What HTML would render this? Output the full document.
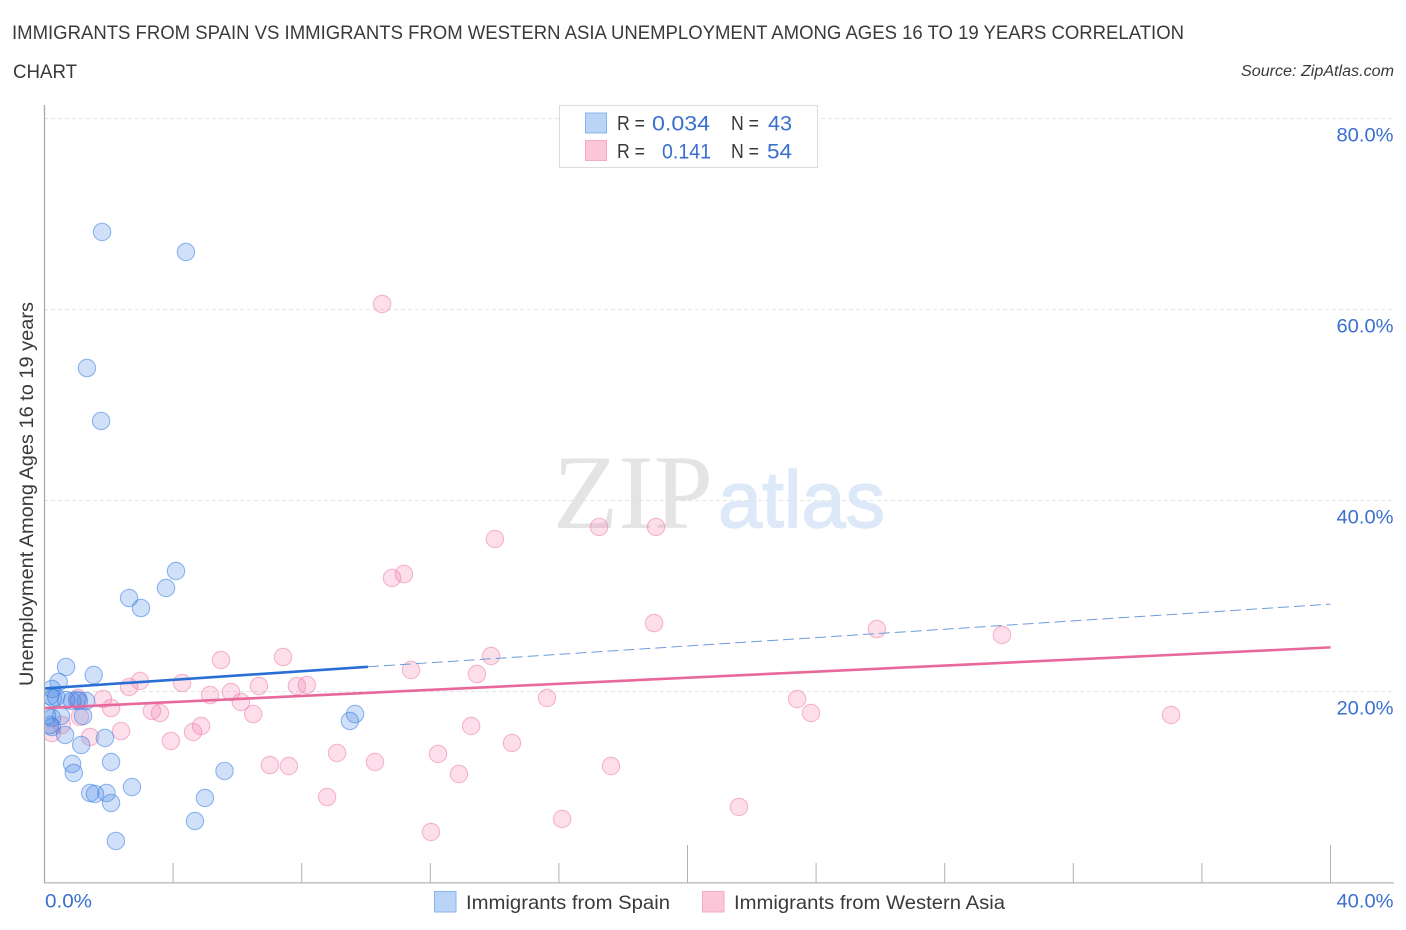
<!DOCTYPE html>
<html lang="en">
<head>
<meta charset="utf-8">
<title>Immigrants from Spain vs Immigrants from Western Asia Unemployment Correlation Chart</title>
<style>
html,body{margin:0;padding:0;background:#fff;width:1406px;height:930px;overflow:hidden}
svg{display:block;font-family:"Liberation Sans",sans-serif}
</style>
</head>
<body>
<svg id="chart" xmlns="http://www.w3.org/2000/svg" width="1406" height="930" viewBox="0 0 1406 930">
  <defs>
    <clipPath id="plot-clip"><rect x="45.2" y="100" width="1350" height="783"/></clipPath>
  </defs>
  <text x="12" y="39" font-size="19.5" fill="#3a3a3a" textLength="1172" lengthAdjust="spacingAndGlyphs">IMMIGRANTS FROM SPAIN VS IMMIGRANTS FROM WESTERN ASIA UNEMPLOYMENT AMONG AGES 16 TO 19 YEARS CORRELATION</text>
  <text x="13" y="78" font-size="19.5" fill="#3a3a3a" textLength="64" lengthAdjust="spacingAndGlyphs">CHART</text>
  <text x="1241" y="76" font-size="15.5" font-style="italic" fill="#3a3a3a" textLength="153" lengthAdjust="spacingAndGlyphs">Source: ZipAtlas.com</text>

  <g>
    <text x="553" y="528" font-family="'Liberation Serif',serif" font-size="106" fill="#e4e4e4" textLength="160" lengthAdjust="spacingAndGlyphs">ZIP</text>
    <text x="718" y="527" font-size="80" fill="#dde9f9" stroke="#dde9f9" stroke-width="1.5" textLength="167" lengthAdjust="spacingAndGlyphs">atlas</text>
  </g>

  <g id="grid"></g>
  <g id="axes"></g>
  <g id="points-pink" clip-path="url(#plot-clip)"></g>
  <g id="points-blue" clip-path="url(#plot-clip)"></g>
  <g id="trends" clip-path="url(#plot-clip)"></g>

  <text transform="translate(33,686) rotate(-90)" font-size="19.5" fill="#3a3a3a" textLength="384" lengthAdjust="spacingAndGlyphs">Unemployment Among Ages 16 to 19 years</text>

  <g>
    <rect x="559.5" y="105.5" width="258" height="62" fill="#fff" stroke="#dcdcdc" stroke-width="1"/>
    <rect x="585.5" y="113" width="21" height="20" fill="#b9d4f7" stroke="#8ab4ec" stroke-width="1"/>
    <rect x="585.5" y="140.5" width="21" height="20" fill="#fbc7d8" stroke="#f5a9c4" stroke-width="1"/>
    <text x="617" y="130" font-size="20" fill="#3a3a3a" textLength="28" lengthAdjust="spacingAndGlyphs">R =</text>
    <text x="652" y="130.5" font-size="21" fill="#3a6fce" textLength="58" lengthAdjust="spacingAndGlyphs">0.034</text>
    <text x="731" y="130" font-size="20" fill="#3a3a3a" textLength="28" lengthAdjust="spacingAndGlyphs">N =</text>
    <text x="768" y="130.5" font-size="21" fill="#3a6fce" textLength="24" lengthAdjust="spacingAndGlyphs">43</text>
    <text x="617" y="158" font-size="20" fill="#3a3a3a" textLength="28" lengthAdjust="spacingAndGlyphs">R =</text>
    <text x="662" y="158.5" font-size="21" fill="#3a6fce" textLength="49" lengthAdjust="spacingAndGlyphs">0.141</text>
    <text x="731" y="158" font-size="20" fill="#3a3a3a" textLength="28" lengthAdjust="spacingAndGlyphs">N =</text>
    <text x="767" y="158.5" font-size="21" fill="#3a6fce" textLength="25" lengthAdjust="spacingAndGlyphs">54</text>
  </g>

  <g>
    <rect x="434.5" y="891.5" width="21.5" height="20.5" fill="#b9d4f7" stroke="#8ab4ec" stroke-width="1"/>
    <text x="466" y="909" font-size="19.5" fill="#3a3a3a" textLength="204" lengthAdjust="spacingAndGlyphs">Immigrants from Spain</text>
    <rect x="702.5" y="891.5" width="21.5" height="20.5" fill="#fbc7d8" stroke="#f5a9c4" stroke-width="1"/>
    <text x="734" y="909" font-size="19.5" fill="#3a3a3a" textLength="271" lengthAdjust="spacingAndGlyphs">Immigrants from Western Asia</text>
  </g>
</svg>
<script>
const yTickValues = [20, 40, 60, 80];
const yTickLabels = ['20.0%', '40.0%', '60.0%', '80.0%'];
const xTickValues = [4, 8, 12, 16, 20, 24, 28, 32, 36, 40];
const xMajorTicks = [20, 40];
const xEndValues = [0, 40];
const xEndLabels = ['0.0%', '40.0%'];

const spainX = [1.79,4.40,1.32,1.76,4.09,3.78,2.63,3.00,0.67,1.53,0.44,0.23,0.26,1.01,1.29,0.86,1.07,1.20,0.51,0.23,0.23,0.64,1.14,1.88,2.07,0.86,0.91,2.72,1.42,1.57,1.93,2.07,2.22,5.60,4.99,4.68,9.66,9.50,0.17,0.36,0.67,0.08,0.17];
const spainY = [68.13,66.03,53.88,48.34,32.63,30.85,29.80,28.75,22.58,21.74,21.01,20.27,19.33,19.12,19.02,19.02,19.02,17.45,17.45,17.24,16.29,15.46,14.41,15.14,12.63,12.42,11.48,10.01,9.38,9.28,9.38,8.34,4.36,11.69,8.86,6.45,17.65,16.92,19.54,19.43,19.12,17.45,16.50];

const asiaX = [10.50,14.01,17.25,19.02,10.81,11.18,18.96,25.89,29.78,5.49,7.42,13.89,11.40,13.45,2.97,2.63,4.28,7.85,8.16,6.67,5.80,5.15,6.11,15.63,23.41,23.84,35.04,1.82,2.07,6.49,3.34,3.59,4.87,4.62,2.38,1.42,3.93,13.27,14.54,9.10,12.24,7.01,7.60,10.28,17.62,12.89,8.79,21.60,12.02,16.10,0.23,0.54,1.10,1.04];
const asiaY = [60.59,35.98,37.24,37.24,31.90,32.31,27.18,26.55,25.93,23.31,23.62,23.73,22.26,21.84,21.11,20.48,20.90,20.59,20.69,20.59,19.96,19.64,18.91,19.33,19.23,17.76,17.55,19.23,18.28,17.65,17.97,17.76,16.40,15.77,15.87,15.25,14.83,16.40,14.62,13.57,13.47,12.31,12.21,12.63,12.21,11.37,8.96,7.92,5.30,6.66,15.66,16.51,17.36,19.33];

const spainTrendX = [0, 10.06, 40];
const spainTrendY = [20.33, 22.6, 29.16];
const asiaTrendX = [0, 40];
const asiaTrendY = [18.27, 24.63];

const NS = 'http://www.w3.org/2000/svg';
function xScale(v) { return 44.5 + v * 32.15; }
function yScale(v) { return 882.6 - v * 9.55; }
function make(parentId, tag, attrs) {
  const el = document.createElementNS(NS, tag);
  for (const k in attrs) el.setAttribute(k, attrs[k]);
  document.getElementById(parentId).appendChild(el);
  return el;
}

yTickValues.forEach(function (v, i) {
  const line = make('grid', 'line', {x1: 44, x2: 1394, y1: yScale(v), y2: yScale(v), stroke: '#e2e2e2', 'stroke-width': 1, 'stroke-dasharray': '4 3'});
  
  
  const label = make('axes', 'text', {x: 1393.5, y: yScale(v) + 23, 'font-size': 19.5, fill: '#3a6fce', 'text-anchor': 'end', textLength: 57, lengthAdjust: 'spacingAndGlyphs'});
  label.textContent = yTickLabels[i];
  
  
});

const yAxis = make('axes', 'line', {x1: 44.5, x2: 44.5, y1: 105, y2: 883.5, stroke: '#aaa', 'stroke-width': 1.3});


const xAxis = make('axes', 'line', {x1: 44, x2: 1394, y1: 882.8, y2: 882.8, stroke: '#bbb', 'stroke-width': 1.3});



xTickValues.forEach(function (v) {
  const top = xMajorTicks.indexOf(v) >= 0 ? 845 : 863;
  const tick = make('axes', 'line', {x1: xScale(v), x2: xScale(v), y1: top, y2: 883, stroke: '#b0b0b0', 'stroke-width': 1});
  
  
});

xEndValues.forEach(function (v, i) {
  const label = make('axes', 'text', {x: i === 0 ? 45 : 1393.5, y: 907.5, 'font-size': 19.5, fill: '#3a6fce', 'text-anchor': i === 0 ? 'start' : 'end', textLength: i === 0 ? 47 : 57, lengthAdjust: 'spacingAndGlyphs'});
  label.textContent = xEndLabels[i];
  
  
});

asiaX.forEach(function (v, i) {
  const c = make('points-pink', 'circle', {cx: xScale(v), cy: yScale(asiaY[i]), r: 8.7, fill: 'rgb(240,111,159)', 'fill-opacity': 0.22, stroke: 'rgb(238,130,170)', 'stroke-opacity': 0.55, 'stroke-width': 1.1});
  
  
});

spainX.forEach(function (v, i) {
  const c = make('points-blue', 'circle', {cx: xScale(v), cy: yScale(spainY[i]), r: 8.7, fill: 'rgb(80,140,230)', 'fill-opacity': 0.27, stroke: 'rgb(60,130,228)', 'stroke-opacity': 0.55, 'stroke-width': 1.1});
  
  
});

const spainDashed = make('trends', 'line', {x1: xScale(spainTrendX[1]), y1: yScale(spainTrendY[1]), x2: xScale(spainTrendX[2]), y2: yScale(spainTrendY[2]), stroke: '#6c9bdc', 'stroke-width': 1, 'stroke-dasharray': '11 5'});


const spainSolid = make('trends', 'line', {x1: xScale(spainTrendX[0]), y1: yScale(spainTrendY[0]), x2: xScale(spainTrendX[1]), y2: yScale(spainTrendY[1]), stroke: '#2a6fd6', 'stroke-width': 2.6});


const asiaSolid = make('trends', 'line', {x1: xScale(asiaTrendX[0]), y1: yScale(asiaTrendY[0]), x2: xScale(asiaTrendX[1]), y2: yScale(asiaTrendY[1]), stroke: '#e8689b', 'stroke-width': 2.6});


</script>
</body>
</html>
